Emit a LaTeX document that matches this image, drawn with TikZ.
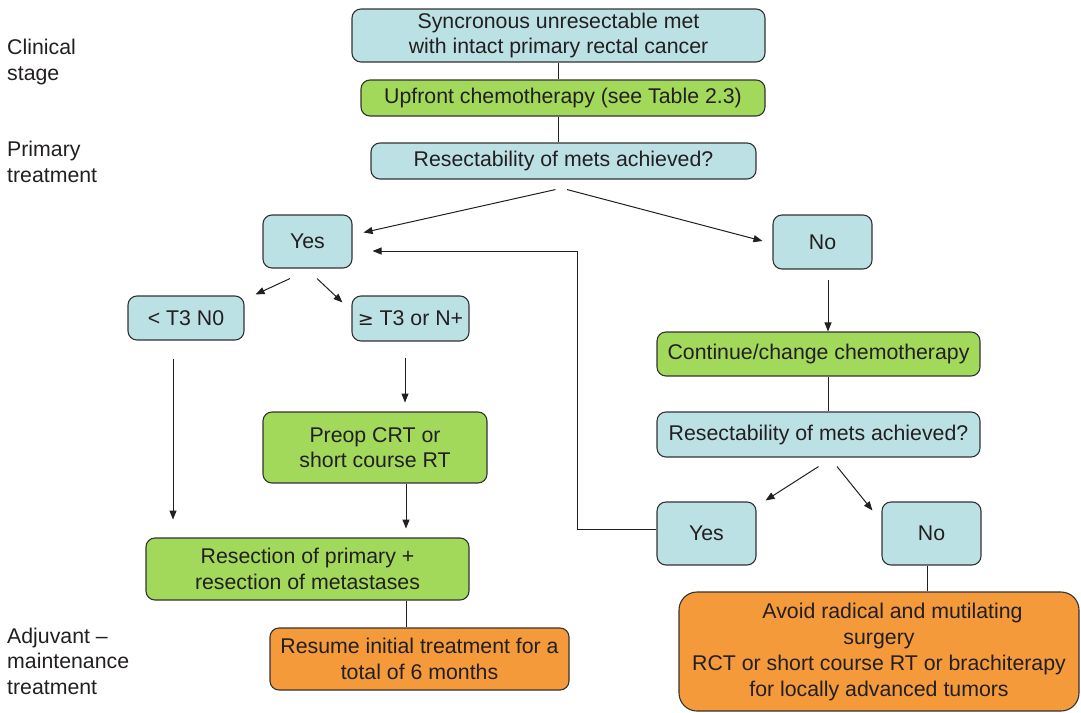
\documentclass[tikz,border=0pt]{standalone}
\usepackage{fontspec}
\setmainfont{Liberation Sans}
\usetikzlibrary{arrows.meta,calc}
\definecolor{bxblue}{HTML}{BCE1E4}
\definecolor{bxgreen}{HTML}{A2D95A}
\definecolor{bxorange}{HTML}{F49A3B}
\definecolor{ink}{HTML}{231F20}
\definecolor{edgecol}{HTML}{333333}
\begin{document}
\begin{tikzpicture}[x=1pt,y=-1pt,
  font=\fontsize{21.3}{25.5}\selectfont,
  box/.style={draw=edgecol, line width=1.1pt, rounded corners=9pt, inner sep=0pt, align=center, text=ink},
  bluebox/.style={box, fill=bxblue},
  greenbox/.style={box, fill=bxgreen},
  orangebox/.style={box, fill=bxorange},
  sidelabel/.style={anchor=west, align=left, inner sep=0pt, text=ink},
  conn/.style={draw=ink, line width=1pt},
  arr/.style={conn, -{Triangle[length=9pt,width=7pt]}}]
\useasboundingbox (0,0) rectangle (1081,712);

% side labels
\node[sidelabel] (lab1) at (7,62) {Clinical\\stage};
\node[sidelabel] (lab2) at (7,162) {Primary\\treatment};
\node[sidelabel] (lab3) at (7,661) {Adjuvant --\\maintenance\\treatment};

% boxes
\node[bluebox, minimum width=413pt, minimum height=53pt] (n1) at (558.5,35.5) {Syncronous unresectable met\\with intact primary rectal cancer};
\node[greenbox, minimum width=404pt, minimum height=36pt] (n2) at (563,98) {Upfront chemotherapy (see Table 2.3)};
\node[bluebox, minimum width=385pt, minimum height=36pt] (n3) at (563.5,161) {Resectability of mets achieved?};
\node[bluebox, minimum width=89pt, minimum height=53pt] (yes1) at (307.5,241.5) {Yes};
\node[bluebox, minimum width=99pt, minimum height=54pt] (no1) at (822.5,242) {No};
\node[bluebox, minimum width=116pt, minimum height=44pt] (lt) at (186,318) {< T3 N0};
\node[bluebox, minimum width=117pt, minimum height=45pt] (ge) at (410.5,318.5) {{\fontspec{DejaVu Sans}\fontsize{19}{25}\selectfont ≥} T3 or N+};
\node[greenbox, minimum width=224pt, minimum height=71pt] (preop) at (375,447.5) {Preop CRT or\\short course RT};
\node[greenbox, minimum width=323pt, minimum height=62pt] (resect) at (307.5,569) {Resection of primary +\\resection of metastases};
\node[orangebox, minimum width=299pt, minimum height=62pt] (resume) at (419.5,659) {Resume initial treatment for a\\total of 6 months};
\node[greenbox, minimum width=323pt, minimum height=44pt] (cont) at (818.5,354) {Continue/change chemotherapy};
\node[bluebox, minimum width=323pt, minimum height=45pt] (res2) at (818.5,434.5) {Resectability of mets achieved?};
\node[bluebox, minimum width=99pt, minimum height=63pt] (yes2) at (706.5,533.5) {Yes};
\node[bluebox, minimum width=99pt, minimum height=63pt] (no2) at (931.5,533.5) {No};
\node[orangebox, rounded corners=18pt, minimum width=400pt, minimum height=119pt, font=\fontsize{21.3}{26}\selectfont] (avoid) at (879,651.5) {\hspace*{27pt}Avoid radical and mutilating\\surgery\\RCT or short course RT or brachiterapy\\for locally advanced tumors};

% connectors
\draw[conn] (n1.south) -- (n1.south |- n2.north);
\draw[conn] (n2.south -| n1.south) -- (n3.north -| n1.south);
\draw[arr] ($(n3.south)+(-8,10)$) -- ($(yes1.east)+(11,-9)$);
\draw[arr] ($(n3.south)+(3.5,10)$) -- ($(no1.west)+(-10,-1)$);

\coordinate (fb) at (577,529);
\draw[arr] (yes2.west |- fb) -- (fb) |- ($(yes1.east)+(20,9.5)$);

\draw[arr] ($(yes1.south)+(-17.5,10)$) -- ($(lt.north east)+(11,-1)$);
\draw[arr] ($(yes1.south)+(9.5,10)$) -- ($(ge.north west)+(-9,7)$);

\draw[arr] ($(lt.south)+(-13,18)$) -- ++(0,161);
\draw[arr] ($(ge.south)+(-5.5,16)$) -- ++(0,45);
\draw[arr] ($(preop.south)+(31,0)$) -- ++(0,45);
\draw[conn] ($(resect.south)+(98.5,0)$) -- ($(resume.north)+(-13.5,0)$);

\draw[arr] ($(no1.south)+(5.5,10)$) -- ($(cont.north)+(9.5,0)$);
\draw[conn] ($(cont.south)+(9.5,0)$) -- ($(res2.north)+(9.5,0)$);
\draw[arr] ($(res2.south)+(0,9)$) -- ($(yes2.north east)+(9,-1)$);
\draw[arr] ($(res2.south)+(18.5,9)$) -- ($(no2.north west)+(-9,9)$);
\draw[conn] ($(no2.south)+(-4.5,0)$) -- ($(avoid.north)+(48,0)$);
\end{tikzpicture}
\end{document}
